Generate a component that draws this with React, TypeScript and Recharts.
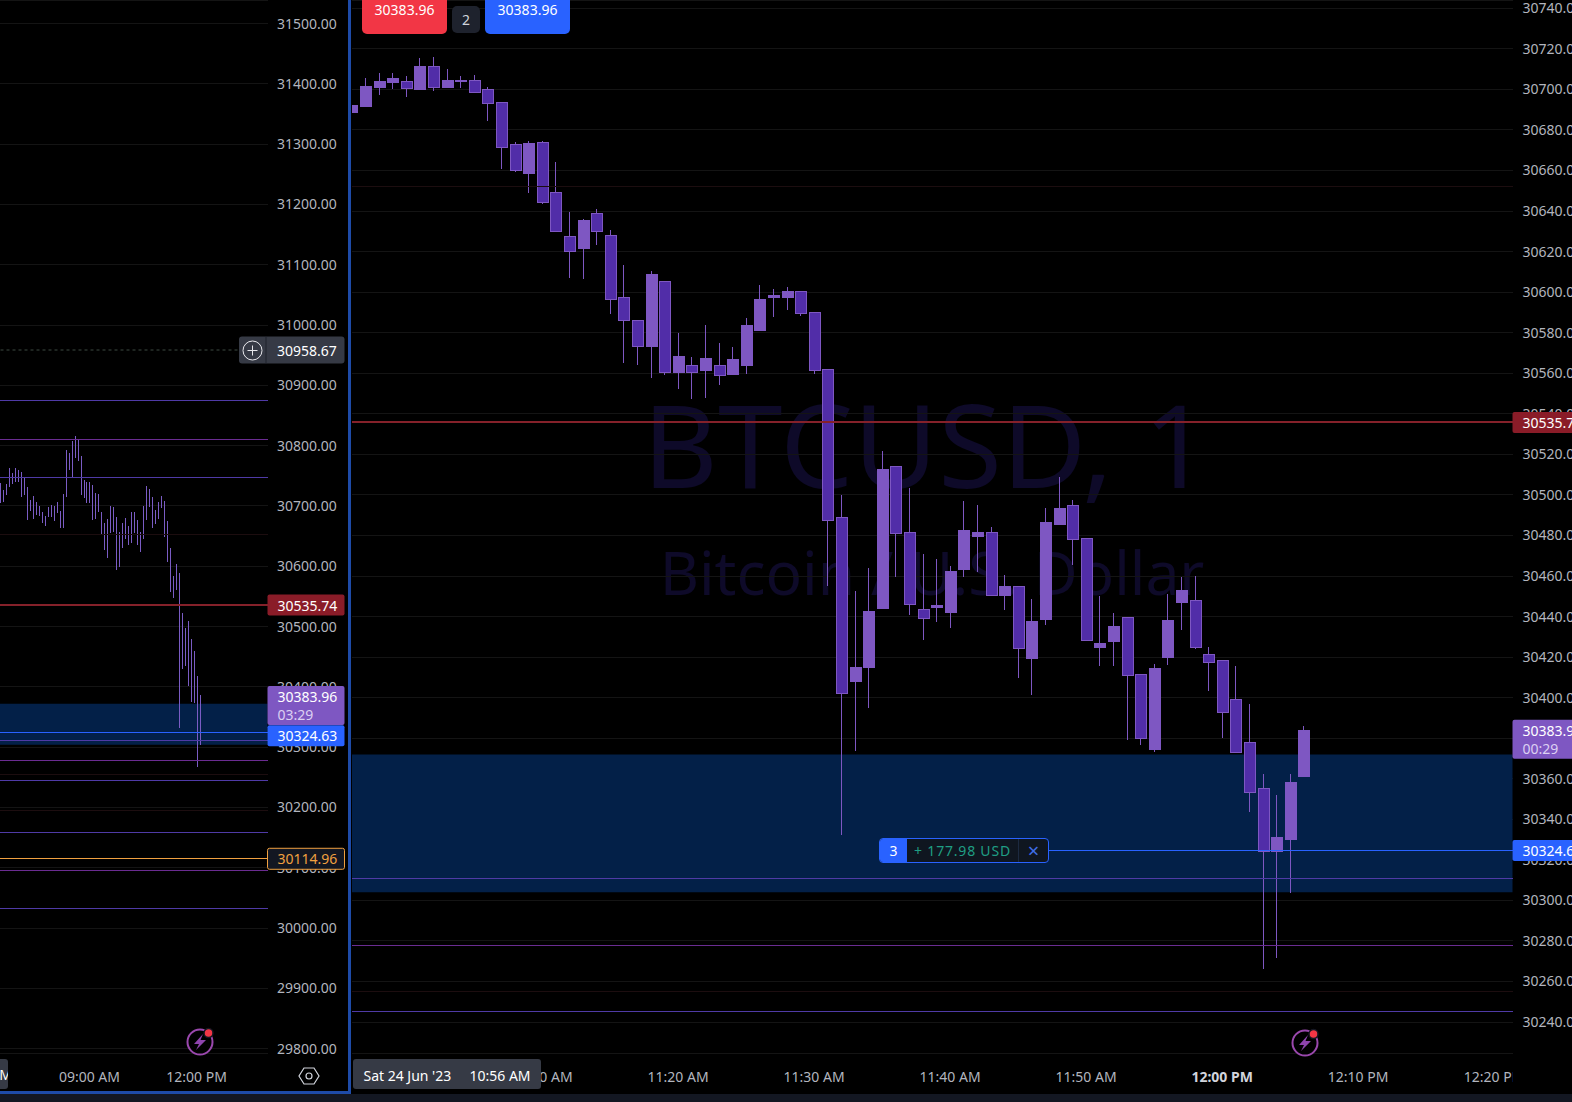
import React from "react";
import { ComposedChart, Bar, XAxis, YAxis, CartesianGrid, ReferenceLine, ReferenceArea } from "recharts";

const FONT = '"Noto Sans", sans-serif';
const TICK = "#b2b5be";
const LIGHT = "#7e57c2";
const DARK = "#512da8";
const ZONE = "#032048";
const GRID = "#141414";
const FAINT = "#1c0d0f";
const RED = "#8a1c28";
const REDLINE = "#85212a";
const BLUE = "#2962ff";
const VIOLET = "#4f3aa6";
const PLUM = "#6a2c91";

const LAST_PRICE = 30383.96;
const ENTRY_PRICE = 30324.63;
const STOP_PRICE = 30535.74;
const ORDER_PRICE = 30114.96;
const CROSS_PRICE = 30958.67;
const ZONE_TOP = 30372;
const ZONE_BOTTOM = 30304;

// ---- 1 minute pane -------
const rightOpens = [30688.8,30691.8,30701.2,30703.7,30704.0,30700.2,30711.6,30701.2,30704.2,30704.7,30700.2,30693.8,30673.2,30658.8,30674.2,30649.4,30627.7,30621.8,30639.1,30628.2,30597.6,30586.2,30573.4,30605.5,30560.7,30564.2,30561.7,30564.2,30559.7,30564.2,30581.3,30597.6,30597.6,30600.6,30590.2,30562.0,30489.1,30408.2,30415.1,30444.2,30514.3,30481.7,30443.7,30444.7,30442.2,30463.5,30479.7,30481.7,30450.6,30455.1,30419.5,30438.8,30485.7,30495.1,30478.7,30425.0,30427.9,30439.8,30411.6,30374.8,30420.0,30447.1,30448.1,30421.5,30418.5,30399.3,30378.2,30355.5,30324.5,30330.3,30361.4];
const rightHighs = [30692.3,30705.5,30708.1,30708.1,30706.6,30715.6,30716.0,30710.1,30706.6,30707.1,30701.2,30693.8,30674.2,30674.7,30674.7,30664.3,30639.6,30636.1,30641.1,30630.7,30613.4,30586.2,30610.4,30605.5,30579.8,30568.1,30583.8,30575.1,30573.1,30587.2,30603.5,30601.5,30602.5,30600.6,30590.2,30562.0,30499.9,30452.6,30464.0,30521.7,30514.3,30503.4,30470.9,30468.4,30465.0,30497.0,30495.1,30484.2,30460.5,30455.1,30448.6,30493.6,30508.9,30497.5,30478.7,30450.1,30441.7,30439.8,30411.6,30416.6,30451.1,30459.5,30460.0,30425.0,30418.5,30415.6,30396.8,30362.4,30352.1,30362.4,30386.2];
const rightLows = [30688.8,30691.8,30697.2,30700.2,30696.2,30700.2,30699.2,30701.2,30700.7,30698.2,30684.4,30660.8,30659.3,30648.9,30643.5,30630.2,30606.9,30606.4,30623.3,30589.2,30565.2,30564.2,30557.7,30559.2,30552.3,30547.3,30547.8,30554.3,30559.7,30559.7,30580.8,30587.7,30591.2,30588.2,30559.7,30455.1,30332.3,30373.8,30394.9,30444.2,30459.5,30440.7,30428.4,30437.3,30434.4,30459.5,30462.0,30450.6,30443.2,30409.6,30401.3,30435.9,30485.7,30465.5,30428.4,30415.6,30415.6,30379.0,30376.6,30373.3,30416.1,30433.4,30424.0,30403.3,30380.0,30373.3,30343.7,30266.1,30271.5,30303.7,30361.4];
const rightCloses = [30692.3,30701.7,30704.2,30705.7,30700.8,30711.6,30701.2,30704.7,30704.7,30698.7,30693.4,30671.8,30660.3,30673.7,30644.5,30630.4,30620.3,30635.7,30630.2,30596.6,30586.2,30573.4,30609.0,30560.7,30568.6,30560.7,30567.6,30559.2,30567.1,30583.8,30596.6,30598.6,30600.6,30589.7,30561.7,30487.8,30402.3,30415.1,30442.7,30512.8,30481.2,30446.2,30439.3,30445.7,30462.5,30482.7,30481.7,30450.6,30455.1,30424.5,30437.8,30486.6,30493.6,30478.2,30428.4,30426.9,30435.4,30411.1,30380.0,30414.6,30438.3,30453.1,30425.0,30417.5,30392.9,30373.3,30353.5,30324.5,30331.3,30358.4,30383.96];
const rightTimeTicks = [4,14,24,34,44,54,64,74,84];
const rightTimeLabels = ["11:00 AM","11:10 AM","11:20 AM","11:30 AM","11:40 AM","11:50 AM","12:00 PM","12:10 PM","12:20 PM"];
const rightPriceTicks = [30740,30720,30700,30680,30660,30640,30620,30600,30580,30560,30540,30520,30500,30480,30460,30440,30420,30400,30380,30360,30340,30320,30300,30280,30260,30240];

// ---- 5 minute pane -------
const leftHighs = [30737.6,30726.5,30736.5,30762.5,30754.2,30762.5,30759.7,30757.0,30745.9,30731.0,30710.0,30716.6,30707.2,30700.0,30690.6,30684.0,30698.9,30701.7,30700.0,30706.1,30692.3,30719.4,30792.9,30787.4,30807.8,30816.1,30810.6,30783.0,30743.1,30740.4,30739.3,30734.3,30721.0,30719.9,30690.6,30672.4,30677.9,30700.0,30698.9,30682.3,30656.3,30671.3,30679.5,30666.8,30690.1,30689.5,30676.8,30657.4,30700.0,30733.2,30728.2,30715.5,30693.4,30707.2,30716.6,30708.9,30675.2,30629.8,30584.0,30603.9,30589.5,30523.1,30497.2,30509.3,30478.9,30460.1,30418.1,30386.6];
const leftLows = [30704.4,30707.2,30718.2,30732.1,30736.5,30740.4,30739.3,30715.5,30718.2,30676.8,30692.3,30677.9,30685.1,30683.4,30671.3,30666.8,30681.2,30682.3,30675.7,30687.8,30664.1,30664.1,30715.5,30759.7,30748.7,30779.1,30775.2,30718.2,30712.7,30705.5,30705.5,30676.8,30677.9,30690.6,30653.6,30627.1,30614.3,30654.7,30657.4,30593.9,30599.4,30629.8,30644.7,30635.4,30638.1,30654.7,30635.4,30624.3,30645.3,30676.8,30698.9,30664.1,30670.2,30677.9,30697.3,30649.2,30607.7,30558.0,30548.0,30560.7,30331.9,30429.2,30434.7,30401.5,30375.5,30372.8,30267.8,30303.7];
const leftTimeTicks = [30,66];
const leftTimeLabels = ["09:00 AM","12:00 PM"];
const leftPriceTicks = [31500,31400,31300,31200,31100,31000,30900,30800,30700,30600,30500,30400,30300,30200,30100,30000,29900,29800];

// drawn levels
const sharedPlum = [30278];
const sharedViolet = [30311, 30245];
const leftViolet = [30875.3, 30747.6, 30158.8, 30032];
const leftPlum = [30810.6, 30095.2];
const faintLevels = [30652, 30255, 30195];

const RIGHT_Y = [30224.74, 30744.09];
const LEFT_Y = [29792.9, 31539.1];
const RIGHT_X = [0.02, 85.35];
const LEFT_X = [-0.067, 89.85];

const rightRows = rightOpens.map((open, t) => ({ t, open, high: rightHighs[t], low: rightLows[t], close: rightCloses[t], range: [rightLows[t], rightHighs[t]] }));
const leftRows = leftHighs.map((high, t) => ({ t, high, low: leftLows[t], range: [leftLows[t], high] }));

const CandleShape = (p: any) => {
  const { x, y, width, height, payload } = p;
  const top = Math.min(y, y + height);
  const h = Math.abs(height);
  const span = payload.high - payload.low || 1;
  const yOf = (v: number) => top + ((payload.high - v) / span) * h;
  const cx = Math.round(x + width / 2);
  const up = payload.close >= payload.open;
  const bt = Math.round(yOf(Math.max(payload.open, payload.close)));
  const bb = Math.round(yOf(Math.min(payload.open, payload.close)));
  return (
    <g shapeRendering="crispEdges">
      <line x1={cx + 0.5} x2={cx + 0.5} y1={top} y2={top + h} stroke={LIGHT} strokeWidth={1} />
      <rect x={cx - 5} y={bt + 0.5} width={11} height={Math.max(bb - bt, 1)} fill={up ? LIGHT : DARK} stroke={LIGHT} strokeWidth={1} />
    </g>
  );
};

const WickShape = (p: any) => {
  const { x, y, width, height } = p;
  const cx = Math.round(x + width / 2);
  return <line x1={cx + 0.5} x2={cx + 0.5} y1={y} y2={y + height} stroke="#7a5cc4" strokeWidth={1} shapeRendering="crispEdges" />;
};

const TagText = ({ x, y, fill = "#ffffff", children }: any) => (
  <text x={x} y={y} dominantBaseline="central" fontFamily={FONT} fontSize={14} fill={fill}>{children}</text>
);

const PriceTag = ({ viewBox, text, sub, bg, color = "#fff", border, up = 10.5, down = 10.5, width, textDy = 0, inset = 10 }: any) => {
  const x = viewBox.x + viewBox.width;
  const y = viewBox.y;
  return (
    <g>
      <rect x={x} y={y - up} width={width} height={up + down} fill={bg} stroke={border} rx={2} />
      <TagText x={x + inset} y={y + textDy} fill={color}>{text}</TagText>
      {sub ? <TagText x={x + inset} y={y + 18} fill="#dcd0f2">{sub}</TagText> : null}
    </g>
  );
};

const CrossTag = ({ viewBox }: any) => {
  const x = viewBox.x + viewBox.width;
  const y = viewBox.y;
  return (
    <g>
      <rect x={x - 28.5} y={y - 13.5} width={105.5} height={27} rx={3} fill="#363a45" />
      <line x1={x - 1.5} x2={x - 1.5} y1={y - 13.5} y2={y + 13.5} stroke="#1e222d" />
      <circle cx={x - 15} cy={y + 0.5} r={9.5} fill="none" stroke="#e8e8ec" strokeWidth={1} />
      <path d={`M${x - 20} ${y + 0.5}H${x - 10}M${x - 15} ${y - 4.5}V${y + 5.5}`} stroke="#e8e8ec" strokeWidth={1} />
      <TagText x={x + 9.5} y={y}>{CROSS_PRICE.toFixed(2)}</TagText>
    </g>
  );
};

const timeTick = (values: number[], labels: string[], boldLabel?: string) => (p: any) => {
  const label = labels[values.indexOf(p.payload.value)];
  return (
    <text x={p.x} y={p.y + 21} textAnchor="middle" dominantBaseline="central" fontFamily={FONT} fontSize={14} fill={label === boldLabel ? "#d1d4dc" : TICK} fontWeight={label === boldLabel ? 700 : 400}>
      {label}
    </text>
  );
};

const flatLine = (value: number, stroke: string, extra: any = {}) => (
  <ReferenceLine key={`${value}-${stroke}`} y={value} stroke={stroke} strokeWidth={1} shapeRendering="crispEdges" {...extra} />
);

const RightPane = () => (
  <ComposedChart width={1220} height={1094} data={rightRows} margin={{ top: 0, right: 0, bottom: 0, left: 0 }}>
    <XAxis dataKey="t" type="number" domain={RIGHT_X} allowDataOverflow ticks={rightTimeTicks} interval={0} height={41} axisLine={false} tickLine={false} tickSize={0} tick={timeTick(rightTimeTicks, rightTimeLabels, "12:00 PM")} />
    <YAxis orientation="right" width={59.5} domain={RIGHT_Y} allowDataOverflow ticks={rightPriceTicks} interval={0} axisLine={false} tickLine={false} tickSize={0} tickMargin={10} tickFormatter={(v: number) => v.toFixed(2)} tick={{ fill: TICK, fontSize: 14, fontFamily: FONT, textAnchor: "start" }} />
    <ReferenceArea y1={ZONE_BOTTOM} y2={ZONE_TOP} fill={ZONE} fillOpacity={1} stroke="none" />
    <CartesianGrid horizontal vertical={false} stroke={GRID} shapeRendering="crispEdges" />
    {faintLevels.slice(0, 2).map((v) => flatLine(v, FAINT))}
    {sharedViolet.map((v) => flatLine(v, VIOLET))}
    {sharedPlum.map((v) => flatLine(v, PLUM))}
    <ReferenceLine y={STOP_PRICE} stroke={REDLINE} strokeWidth={2} shapeRendering="crispEdges" />
    <ReferenceLine segment={[{ x: 51.3, y: ENTRY_PRICE }, { x: 85.35, y: ENTRY_PRICE }]} stroke={BLUE} shapeRendering="crispEdges" />
    <Bar dataKey="range" barSize={11} isAnimationActive={false} shape={CandleShape} />
  </ComposedChart>
);

const LeftPane = () => (
  <ComposedChart width={348} height={1094} data={leftRows} margin={{ top: 0, right: 0, bottom: 0, left: 0 }}>
    <XAxis dataKey="t" type="number" domain={LEFT_X} allowDataOverflow ticks={leftTimeTicks} interval={0} height={41} axisLine={false} tickLine={false} tickSize={0} tick={timeTick(leftTimeTicks, leftTimeLabels)} />
    <YAxis orientation="right" width={80.5} domain={LEFT_Y} allowDataOverflow ticks={leftPriceTicks} interval={0} axisLine={false} tickLine={false} tickSize={0} tickMargin={9.5} tickFormatter={(v: number) => v.toFixed(2)} tick={{ fill: TICK, fontSize: 14, fontFamily: FONT, textAnchor: "start" }} />
    <ReferenceArea y1={ZONE_BOTTOM} y2={ZONE_TOP} fill={ZONE} fillOpacity={1} stroke="none" />
    <CartesianGrid horizontal vertical={false} stroke={GRID} shapeRendering="crispEdges" />
    {faintLevels.map((v) => flatLine(v, FAINT))}
    {leftViolet.concat(sharedViolet).map((v) => flatLine(v, VIOLET))}
    {leftPlum.concat(sharedPlum).map((v) => flatLine(v, PLUM))}
    <ReferenceLine y={CROSS_PRICE} stroke="#3d4a42" strokeDasharray="3 3" />
    <ReferenceLine y={STOP_PRICE} stroke={REDLINE} strokeWidth={2} shapeRendering="crispEdges" />
    <ReferenceLine y={ENTRY_PRICE} stroke={BLUE} shapeRendering="crispEdges" />
    <ReferenceLine y={ORDER_PRICE} stroke="#f0a040" shapeRendering="crispEdges" />
    <Bar dataKey="range" barSize={1} isAnimationActive={false} shape={WickShape} />
  </ComposedChart>
);

// The price tags sit above the axis labels, so they get a transparent chart of their own on the same scales.
const RightTags = () => (
  <ComposedChart width={1220} height={1094} data={rightRows} margin={{ top: 0, right: 59.5, bottom: 41, left: 0 }}>
    <XAxis hide dataKey="t" type="number" domain={RIGHT_X} allowDataOverflow />
    <YAxis hide domain={RIGHT_Y} allowDataOverflow />
    <ReferenceLine y={STOP_PRICE} stroke="none" label={<PriceTag text={STOP_PRICE.toFixed(2)} bg={RED} width={62} />} />
    <ReferenceLine y={LAST_PRICE} stroke="none" label={<PriceTag text={LAST_PRICE.toFixed(2)} sub="00:29" bg={LIGHT} width={62} up={10.5} down={28.5} />} />
    <ReferenceLine y={ENTRY_PRICE} stroke="none" label={<PriceTag text={ENTRY_PRICE.toFixed(2)} bg={BLUE} width={62} />} />
  </ComposedChart>
);

const LeftTags = () => (
  <ComposedChart width={348} height={1094} data={leftRows} margin={{ top: 0, right: 80.5, bottom: 41, left: 0 }}>
    <XAxis hide dataKey="t" type="number" domain={LEFT_X} allowDataOverflow />
    <YAxis hide domain={LEFT_Y} allowDataOverflow />
    <ReferenceLine y={CROSS_PRICE} stroke="none" label={<CrossTag />} />
    <ReferenceLine y={STOP_PRICE} stroke="none" label={<PriceTag text={STOP_PRICE.toFixed(2)} bg={RED} width={77} />} />
    <ReferenceLine y={LAST_PRICE} stroke="none" label={<PriceTag text={LAST_PRICE.toFixed(2)} sub="03:29" bg={LIGHT} width={77} up={10.5} down={28.5} />} />
    <ReferenceLine y={ENTRY_PRICE} stroke="none" label={<PriceTag text={ENTRY_PRICE.toFixed(2)} bg={BLUE} width={77} up={7} down={14} textDy={3.5} />} />
    <ReferenceLine y={ORDER_PRICE} stroke="none" label={<PriceTag text={ORDER_PRICE.toFixed(2)} bg="#131722" border="#f0a040" color="#f0a040" width={77} />} />
  </ComposedChart>
);

const box = (left: number, top: number, width: number, height: number, extra: any = {}): React.CSSProperties => ({
  position: "absolute", left, top, width, height, display: "flex", alignItems: "center", justifyContent: "center",
  fontFamily: FONT, fontSize: 14, color: "#fff", boxSizing: "border-box", whiteSpace: "pre", overflow: "hidden", ...extra,
});

const Bolt = ({ cx, cy }: any) => (
  <svg style={{ position: "absolute", left: cx - 18, top: cy - 18 }} width={36} height={36}>
    <circle cx={18} cy={18} r={12.5} fill="#000" stroke="#9a48ad" strokeWidth={2} />
    <path d="M21 10 L12 20 H17 L14 26 L24 16 H18.5 Z" fill="#8e44ad" />
    <circle cx={26.5} cy={9} r={4.5} fill="#f23645" stroke="#131722" strokeWidth={1.5} />
  </svg>
);

export default function App() {
  return (
    <div style={{ position: "absolute", left: 0, top: 0, width: 1572, height: 1102, background: "#000", overflow: "hidden" }}>
      <div style={box(526, 375, 800, 136, { color: "#0e0a29", fontSize: 116 })}>BTCUSD, 1</div>
      <div style={box(532, 529, 800, 84, { color: "#0e0a29", fontSize: 60.5 })}>Bitcoin / U.S. Dollar</div>

      <div style={{ position: "absolute", left: 0, top: 0 }}><LeftPane /></div>
      <div style={{ position: "absolute", left: 352, top: 0 }}><RightPane /></div>

      <div style={box(1512.5, 1053, 60, 40, { background: "#000" })} />
      <div style={{ position: "absolute", left: 0, top: 0 }}><LeftTags /></div>
      <div style={{ position: "absolute", left: 352, top: 0 }}><RightTags /></div>

      <div style={box(348, 0, 3, 1094, { background: "#1e4ba8" })} />
      <div style={box(0, 1091, 350, 3, { background: "#1e4ba8" })} />
      <div style={box(0, 1094, 1572, 8, { background: "#131722" })} />

      <div style={box(362, -16, 85, 50, { background: "#f23645", borderRadius: 5 })}>30383.96</div>
      <div style={box(452, 6, 28, 27, { background: "#1e222d", borderRadius: 5, color: "#d1d4dc" })}>2</div>
      <div style={box(485, -16, 85, 50, { background: BLUE, borderRadius: 5 })}>30383.96</div>

      <div style={box(879, 838, 170, 25, { border: `1px solid ${BLUE}`, borderRadius: 4, background: "#0f1620", justifyContent: "flex-start" })}>
        <div style={{ width: 27, height: "100%", background: BLUE, display: "flex", alignItems: "center", justifyContent: "center" }}>3</div>
        <div style={{ width: 112, height: "100%", color: "#1f9e84", display: "flex", alignItems: "center", justifyContent: "center", letterSpacing: 0.8, borderRight: "1px solid #1c2a40" }}>+ 177.98 USD</div>
        <div style={{ width: 29, height: "100%", color: "#3f6fe8", display: "flex", alignItems: "center", justifyContent: "center", fontSize: 20 }}>×</div>
      </div>

      <div style={box(0, 1059, 8, 30, { background: "#363a45", borderRadius: "0 3px 3px 0", justifyContent: "flex-end" })}><span style={{ marginRight: -4 }}>AM</span></div>
      <div style={box(353, 1059, 188, 30, { background: "#363a45", borderRadius: 3, paddingTop: 3 })}>Sat 24 Jun '23     10:56 AM</div>

      <svg style={{ position: "absolute", left: 296, top: 1064 }} width={26} height={24}>
        <path d="M8 4 H18 L23 12 L18 20 H8 L3 12 Z" fill="none" stroke="#d1d4dc" strokeWidth={1.2} />
        <circle cx={13} cy={12} r={3} fill="none" stroke="#d1d4dc" strokeWidth={1.2} />
      </svg>
      <Bolt cx={199.5} cy={1042} />
      <Bolt cx={1304.5} cy={1042.5} />
    </div>
  );
}
